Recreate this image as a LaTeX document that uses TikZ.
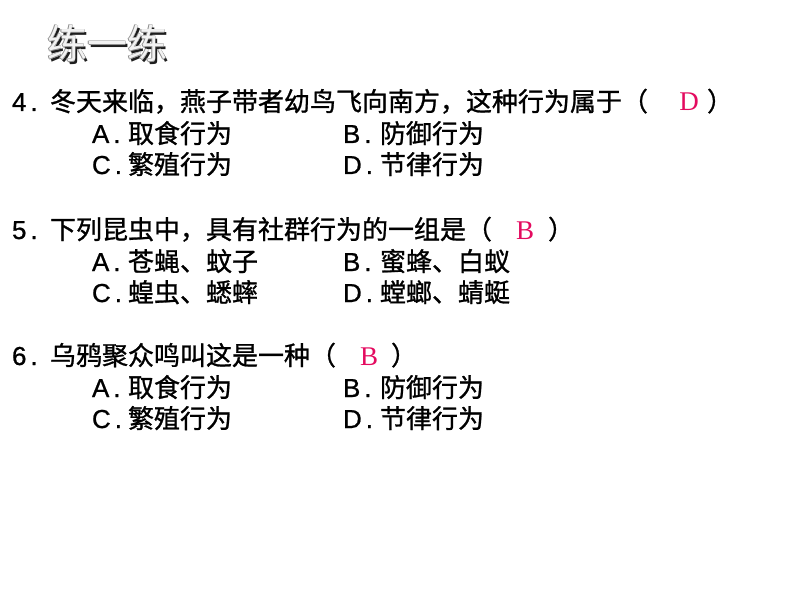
\documentclass[tikz,border=0pt]{standalone}
\usepackage{fontspec}
\setmainfont{Liberation Sans}
\newfontfamily\cjk[FakeBold=1]{Noto Sans CJK SC}
\newfontfamily\cjktitle{Noto Sans CJK SC}
\newfontfamily\lat[FakeBold=0.8]{Liberation Sans}
\newfontfamily\ans{Liberation Serif}
\definecolor{anscol}{RGB}{228,10,95}
\definecolor{titlefill}{RGB}{242,242,242}
\definecolor{titleedge}{RGB}{140,140,140}
\definecolor{titleshadow}{RGB}{30,30,30}
\newcommand{\embossed}[1]{%
  \rlap{\kern2.2pt\raisebox{-2.2pt}{\color{titleshadow}#1}}%
  \rlap{\kern0.7pt{\color{titleedge}#1}}%
  \rlap{\kern-0.7pt{\color{titleedge}#1}}%
  \rlap{\raisebox{0.7pt}{\color{titleedge}#1}}%
  \rlap{\raisebox{-0.7pt}{\color{titleedge}#1}}%
  {\color{titlefill}#1}}
\begin{document}
\begin{tikzpicture}[x=1pt,y=-1pt,
  every node/.style={inner sep=0pt,outer sep=0pt},
  txt/.style={anchor=base west,font=\fontsize{26}{26}\selectfont\cjk},
  lab/.style={anchor=base west,font=\fontsize{26}{26}\selectfont\lat},
  answer/.style={anchor=base,font=\fontsize{27}{27}\selectfont\ans,text=anscol},
  ttl/.style={anchor=base west,font=\fontsize{40}{40}\selectfont\cjktitle}]
\useasboundingbox (0,0) rectangle (794,596);
\fill[white] (0,0) rectangle (794,596);
% title
\node[ttl] (title) at (47,59) {\embossed{练一练}};
% question 4
\node[lab] (n4) at (12,111) {4\kern4pt.};
\node[txt] (q4) at (50,111) {冬天来临，燕子带者幼鸟飞向南方，这种行为属于（};
\node[answer] (a4) at (689,111) {D};
\node[txt] (c4) at (707,111) {）};
\node[lab] (o4a) at (92,143) {A\kern4pt.};
\node[txt] (t4a) at (128,143) {取食行为};
\node[lab] (o4b) at (343,143) {B\kern4pt.};
\node[txt] (t4b) at (380,143) {防御行为};
\node[lab] (o4c) at (92,174) {C\kern4pt.};
\node[txt] (t4c) at (128,174) {繁殖行为};
\node[lab] (o4d) at (343,174) {D\kern4pt.};
\node[txt] (t4d) at (380,174) {节律行为};
% question 5
\node[lab] (n5) at (12,239) {5\kern4pt.};
\node[txt] (q5) at (50,239) {下列昆虫中，具有社群行为的一组是（};
\node[answer] (a5) at (525,239) {B};
\node[txt] (c5) at (548,239) {）};
\node[lab] (o5a) at (92,271) {A\kern4pt.};
\node[txt] (t5a) at (128,271) {苍蝇、蚊子};
\node[lab] (o5b) at (343,271) {B\kern4pt.};
\node[txt] (t5b) at (380,271) {蜜蜂、白蚁};
\node[lab] (o5c) at (92,302) {C\kern4pt.};
\node[txt] (t5c) at (128,302) {蝗虫、蟋蟀};
\node[lab] (o5d) at (343,302) {D\kern4pt.};
\node[txt] (t5d) at (380,302) {螳螂、蜻蜓};
% question 6
\node[lab] (n6) at (12,365) {6\kern4pt.};
\node[txt] (q6) at (50,365) {乌鸦聚众鸣叫这是一种（};
\node[answer] (a6) at (369,365) {B};
\node[txt] (c6) at (391,365) {）};
\node[lab] (o6a) at (92,397) {A\kern4pt.};
\node[txt] (t6a) at (128,397) {取食行为};
\node[lab] (o6b) at (343,397) {B\kern4pt.};
\node[txt] (t6b) at (380,397) {防御行为};
\node[lab] (o6c) at (92,428) {C\kern4pt.};
\node[txt] (t6c) at (128,428) {繁殖行为};
\node[lab] (o6d) at (343,428) {D\kern4pt.};
\node[txt] (t6d) at (380,428) {节律行为};
\end{tikzpicture}
\end{document}
